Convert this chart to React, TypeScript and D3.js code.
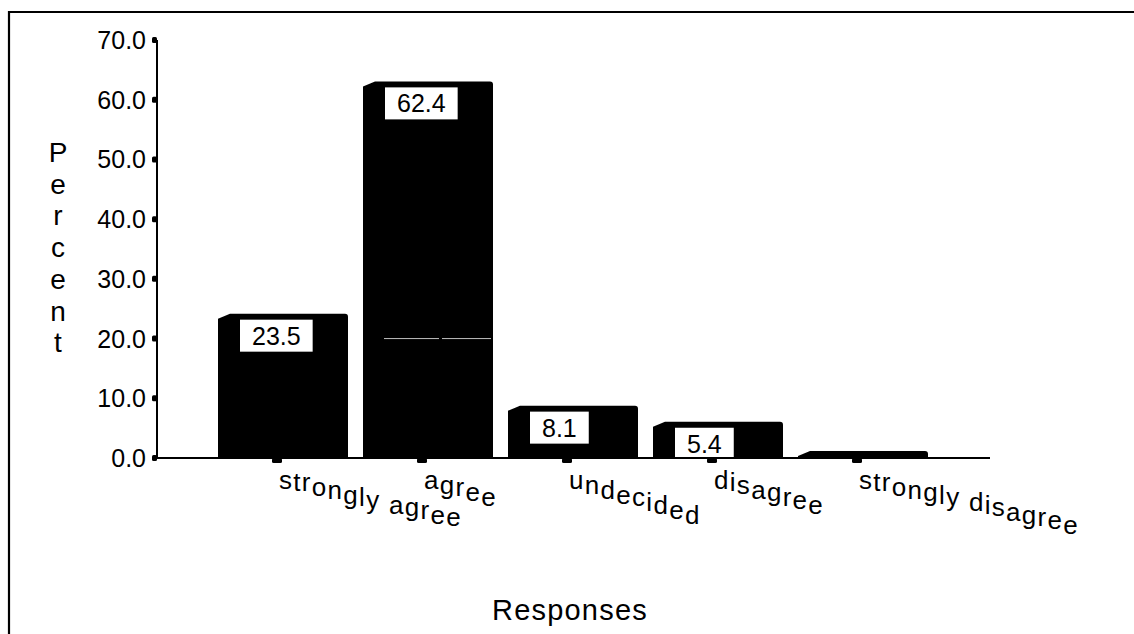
import React from "react";
import * as d3 from "d3";

const categories: string[] = ["strongly agree", "agree", "undecided", "disagree", "strongly disagree"];
const percents: number[] = [23.5, 62.4, 8.1, 5.4, 0.5];
const yTicks: number[] = [0, 10, 20, 30, 40, 50, 60, 70];
const yTitle = "Percent";
const xTitle = "Responses";

const W = 1134;
const H = 634;
const FONT = "'Liberation Sans', Arial, Helvetica, sans-serif";
const labelSlopes = [0.23, 0.3, 0.3, 0.27, 0.22];

function measure(txt: string, size: number): number {
  const c = document.createElement("canvas");
  const ctx = c.getContext("2d");
  if (!ctx) return txt.length * size * 0.5;
  ctx.font = `${size}px 'Liberation Sans', Arial, sans-serif`;
  return ctx.measureText(txt).width;
}

export default function App() {
  const y = d3.scaleLinear().domain([0, 70]).range([458, 40]);
  const x = d3.scalePoint<string>().domain(categories).range([277, 857]);
  const base = y(0);
  const barW = 130;
  const offL = 59;

  const barPath = (cat: string, v: number) => {
    const L = (x(cat) as number) - offL;
    const R = L + barW;
    const t = y(v);
    const p = d3.path();
    p.moveTo(L, base);
    p.lineTo(L, Math.min(t + 1, base));
    p.lineTo(L + 12, t - 4);
    p.lineTo(R - 3, t - 4);
    p.quadraticCurveTo(R, t - 4, R, t - 1);
    p.lineTo(R, base);
    p.closePath();
    return p.toString();
  };

  return (
    <svg width={W} height={H} style={{ position: "absolute", left: 0, top: 0, background: "#fff" }} fontFamily={FONT}>
      <rect x={0} y={0} width={W} height={H} fill="#fff" />
      {/* frame */}
      <line x1={9} y1={12} x2={W} y2={12} stroke="#000" strokeWidth={2.2} />
      <line x1={9} y1={11} x2={9} y2={H} stroke="#000" strokeWidth={2.2} />

      {/* bars */}
      {categories.map((c, i) => (
        <path key={c} d={barPath(c, percents[i])} fill="#000" />
      ))}

      {/* faint artifact line across agree bar at 20 */}
      <line
        x1={(x("agree") as number) - offL + 21}
        x2={(x("agree") as number) - offL + barW - 2}
        y1={y(20)}
        y2={y(20)}
        stroke="#fff"
        strokeWidth={1}
        strokeDasharray="55 3"
        opacity={0.75}
      />

      {/* value labels */}
      {categories.map((c, i) => {
        const v = percents[i];
        if (v < 1) return null;
        const txt = v.toFixed(1);
        const tw = measure(txt, 25);
        const L = (x(c) as number) - offL + 22;
        const top = y(v) + 2;
        const bw = tw + 24;
        return (
          <g key={"lab" + c}>
            <rect x={L} y={top} width={bw} height={32} fill="#fff" />
            <text x={L + bw / 2} y={top + 25} textAnchor="middle" fontSize={25} fill="#000">
              {txt}
            </text>
          </g>
        );
      })}

      {/* axes */}
      <line x1={157} y1={y(70)} x2={157} y2={base + 1} stroke="#000" strokeWidth={2} />
      <line x1={155} y1={base} x2={990} y2={base} stroke="#000" strokeWidth={2} />
      {yTicks.map((t) => (
        <g key={"yt" + t}>
          <rect x={152} y={y(t) - 3} width={5} height={6} rx={1.5} fill="#000" />
          <text x={146} y={y(t)} dy="0.36em" textAnchor="end" fontSize={25} fill="#000">
            {t.toFixed(1)}
          </text>
        </g>
      ))}
      {categories.map((c) => (
        <rect key={"xt" + c} x={(x(c) as number) - 5} y={base} width={10} height={5} rx={1.5} fill="#000" />
      ))}

      {/* x tick labels: upright characters on a descending baseline */}
      {categories.map((c, i) => {
        const x0 = (x(c) as number) + 2;
        const slope = labelSlopes[i];
        const chars = c.split("");
        let cx = 0;
        const spacing = 1.3;
        const fs = 26;
        const items = chars.map((ch) => {
          const w = measure(ch, fs);
          const px = x0 + cx;
          const py = 486 + Math.round((slope * (cx + w / 2)) / 2.5) * 2.5;
          cx += w + spacing;
          return { ch, px, py };
        });
        return (
          <text key={"xl" + c} fontSize={fs} fill="#000">
            {items.map((it, k) =>
              it.ch === " " ? null : (
                <tspan key={k} x={it.px} y={it.py}>
                  {it.ch}
                </tspan>
              )
            )}
          </text>
        );
      })}

      {/* y title */}
      {yTitle.split("").map((ch, k) => (
        <text key={"yc" + k} x={58} y={162 + k * 31.7} textAnchor="middle" fontSize={28} fill="#000">
          {ch}
        </text>
      ))}

      {/* x title */}
      <text x={570} y={620} textAnchor="middle" fontSize={29} letterSpacing={1.2} fill="#000">
        {xTitle}
      </text>
    </svg>
  );
}
